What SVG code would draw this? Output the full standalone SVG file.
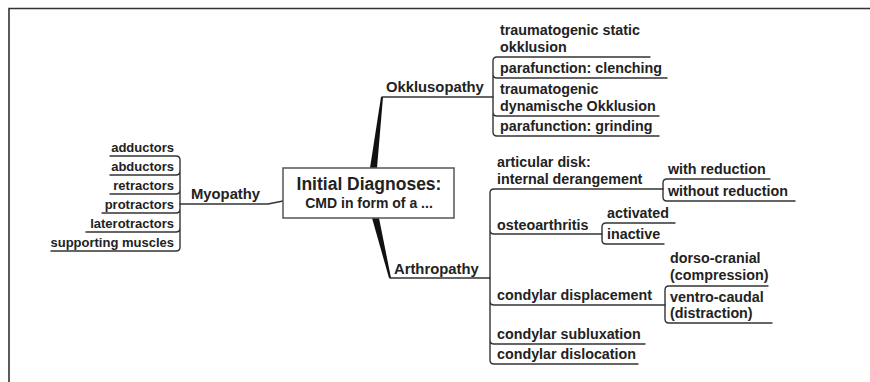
<svg xmlns="http://www.w3.org/2000/svg" width="870" height="382" viewBox="0 0 870 382">
<style>
text{font-family:"Liberation Sans",Arial,sans-serif;font-weight:bold;fill:#222}
.l{font-size:13px}
.r{font-size:14.3px}
.m{font-size:14.8px}
.t{font-size:17.5px}
.s{font-size:14px}
.ln{fill:none;stroke:#333;stroke-width:1.4;stroke-linecap:round;stroke-linejoin:round}
.fr{fill:none;stroke:#333;stroke-width:1.6}
</style>
<rect width="870" height="382" fill="#fff"/>
<path class="fr" d="M9,382 V8.5 H870"/>

<g id="connectors">
  <polygon points="370,168 377,168 383,97 381,97" fill="#111"/>
  <polygon points="372,218 379,218 391,278 389,278" fill="#111"/>
  <path class="ln" d="M180,204 H268 L283,201"/>
  <path class="ln" d="M382,97 H493"/>
  <path class="ln" d="M390,278 H490"/>
  <!-- left bracket -->
  <path class="ln" d="M180,160 V247 M110,156 H176 Q180,156 180,160 M110,175 H176 Q180,175 180,171 M110,194 H176 Q180,194 180,190 M102,213 H176 Q180,213 180,209 M86,232 H176 Q180,232 180,228 M51,251 H176 Q180,251 180,247"/>
  <!-- okklusopathy bracket -->
  <path class="ln" d="M493,61 V132 M650,57 H497 Q493,57 493,61 M667,78 H497 Q493,78 493,74 M659,116 H497 Q493,116 493,112 M659,136 H497 Q493,136 493,132"/>
  <!-- arthropathy bracket -->
  <path class="ln" d="M490,193 V360 M663,189 H494 Q490,189 490,193 M602,234 H494 Q490,234 490,230 M665,305 H494 Q490,305 490,301 M645,344 H494 Q490,344 490,340 M638,364 H494 Q490,364 490,360"/>
  <!-- sub brackets -->
  <path class="ln" d="M663,183 V197 M770,179 H667 Q663,179 663,183 M795,201 H667 Q663,201 663,197"/>
  <path class="ln" d="M602,227 V240 M675,223 H606 Q602,223 602,227 M664,244 H606 Q602,244 602,240"/>
  <path class="ln" d="M665,290 V319 M768,286 H669 Q665,286 665,290 M772,323 H669 Q665,323 665,319"/>
</g>

<g id="center">
  <rect x="283" y="168" width="171" height="50" fill="#fff" stroke="#555" stroke-width="1.5"/>
  <text class="t" x="369" y="190" text-anchor="middle">Initial Diagnoses:</text>
  <text class="s" x="369" y="208" text-anchor="middle">CMD in form of a ...</text>
</g>

<g id="myopathy"><text class="m" x="191" y="199">Myopathy</text></g>
<g id="adductors"><text class="l" x="174" y="152" text-anchor="end">adductors</text></g>
<g id="abductors"><text class="l" x="174" y="171" text-anchor="end">abductors</text></g>
<g id="retractors"><text class="l" x="174" y="190" text-anchor="end">retractors</text></g>
<g id="protractors"><text class="l" x="174" y="209" text-anchor="end">protractors</text></g>
<g id="laterotractors"><text class="l" x="174" y="228" text-anchor="end">laterotractors</text></g>
<g id="supporting"><text class="l" x="174" y="247" text-anchor="end">supporting muscles</text></g>

<g id="okklusopathy"><text class="m" x="386" y="92">Okklusopathy</text></g>
<g id="static"><text class="r" x="500" y="35">traumatogenic static</text><text class="r" x="500" y="52">okklusion</text></g>
<g id="clenching"><text class="r" x="500" y="73">parafunction: clenching</text></g>
<g id="dynamic"><text class="r" x="500" y="94">traumatogenic</text><text class="r" x="500" y="111">dynamische Okklusion</text></g>
<g id="grinding"><text class="r" x="500" y="131">parafunction: grinding</text></g>

<g id="arthropathy"><text class="m" x="394" y="274">Arthropathy</text></g>
<g id="disk"><text class="r" x="497" y="167">articular disk:</text><text class="r" x="497" y="184">internal derangement</text></g>
<g id="withred"><text class="r" x="668" y="174">with reduction</text></g>
<g id="withoutred"><text class="r" x="668" y="196">without reduction</text></g>
<g id="osteo"><text class="r" x="497" y="230">osteoarthritis</text></g>
<g id="activated"><text class="r" x="607" y="218">activated</text></g>
<g id="inactive"><text class="r" x="607" y="239">inactive</text></g>
<g id="displacement"><text class="r" x="497" y="300">condylar displacement</text></g>
<g id="dorso"><text class="r" x="670" y="263">dorso-cranial</text><text class="r" x="670" y="280">(compression)</text></g>
<g id="ventro"><text class="r" x="670" y="302">ventro-caudal</text><text class="r" x="670" y="318">(distraction)</text></g>
<g id="subluxation"><text class="r" x="497" y="339">condylar subluxation</text></g>
<g id="dislocation"><text class="r" x="497" y="359">condylar dislocation</text></g>
</svg>
